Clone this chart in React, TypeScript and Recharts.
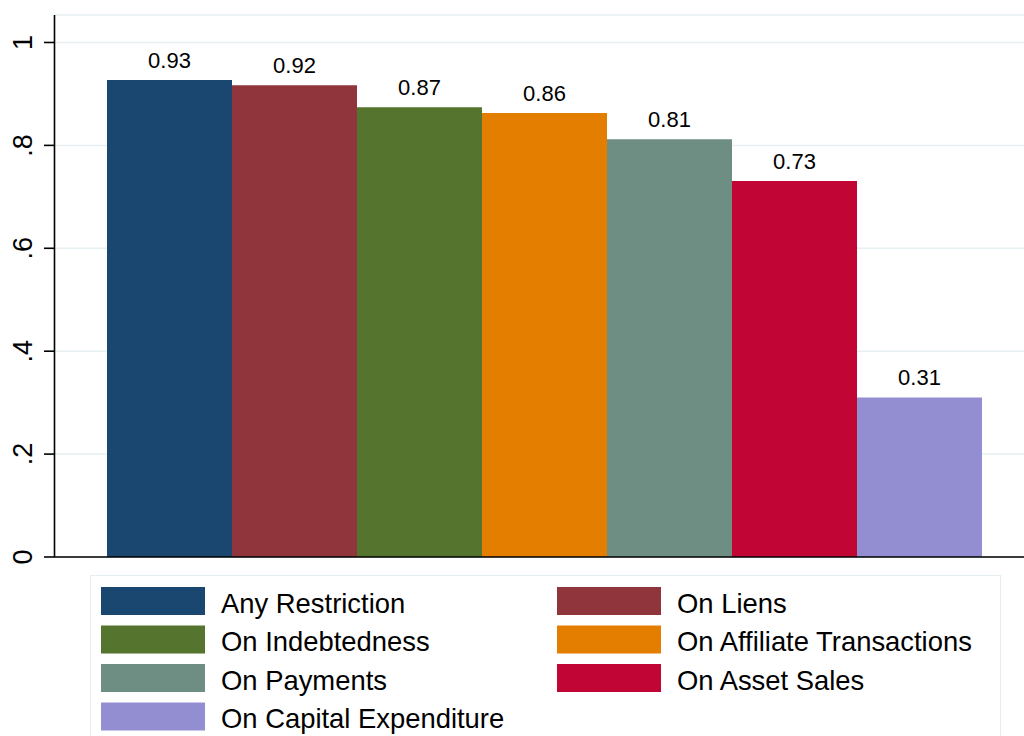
import React from "react";
import { BarChart, Bar, XAxis, YAxis, CartesianGrid, LabelList, ReferenceLine } from "recharts";

// one group, seven series (Stata-style bar chart of shares)
const seriesNames = [
  "Any Restriction",
  "On Liens",
  "On Indebtedness",
  "On Affiliate Transactions",
  "On Payments",
  "On Asset Sales",
  "On Capital Expenditure",
];
const seriesKeys = ["any", "liens", "indebt", "affiliate", "payments", "assets", "capex"];
const seriesValues = [0.927, 0.917, 0.874, 0.863, 0.812, 0.731, 0.31];
const seriesColors = ["#1a476f", "#90353b", "#55752f", "#e37e00", "#6e8e84", "#c10534", "#938dd2"];

const yTicks = [0, 0.2, 0.4, 0.6, 0.8, 1];
const yTickLabels = ["0", ".2", ".4", ".6", ".8", "1"];

const FONT = "'Liberation Sans', Arial, Helvetica, sans-serif";

const row: Record<string, number | string> = { group: "all" };
seriesKeys.forEach((k, i) => {
  row[k] = seriesValues[i];
});
const data = [row];

const YTick = (props: any) => {
  const { y, payload } = props;
  const idx = yTicks.indexOf(payload.value);
  const tx = 32;
  return (
    <g>
      <line x1={44} x2={55} y1={y} y2={y} stroke="#000" strokeWidth={1.6} />
      <text
        x={tx}
        y={y}
        transform={`rotate(-90, ${tx}, ${y})`}
        textAnchor="middle"
        fontSize={27}
        fontFamily={FONT}
        fill="#000"
      >
        {idx >= 0 ? yTickLabels[idx] : payload.value}
      </text>
    </g>
  );
};

function LegendBox() {
  const colX = [101, 557];
  const rowTop = 587;
  const rowStep = 38.5;
  return (
    <svg
      width={1024}
      height={736}
      style={{ position: "absolute", left: 0, top: 0, pointerEvents: "none" }}
    >
      <rect x={90.5} y={575.5} width={910} height={200} fill="#fff" stroke="#e4edf1" strokeWidth={1} />
      {seriesNames.map((name, i) => {
        const c = i % 2;
        const r = Math.floor(i / 2);
        const top = rowTop + r * rowStep;
        return (
          <g key={name}>
            <rect x={colX[c]} y={top} width={104} height={28} fill={seriesColors[i]} />
            <text x={colX[c] + 120} y={top + 25.5} fontSize={27.4} fontFamily={FONT} fill="#000">
              {name}
            </text>
          </g>
        );
      })}
    </svg>
  );
}

export default function App() {
  return (
    <div
      style={{
        position: "absolute",
        left: 0,
        top: 0,
        width: 1024,
        height: 736,
        overflow: "hidden",
        background: "#fff",
      }}
    >
      <BarChart
        width={1024}
        height={736}
        data={data}
        margin={{ top: 15, right: 0, bottom: 179, left: 0 }}
        barGap={0}
        barCategoryGap={39}
      >
        <CartesianGrid vertical={false} stroke="#e6eff1" strokeWidth={1.5} />
        <CartesianGrid horizontal={false} verticalPoints={[54.5]} stroke="#000" strokeWidth={1.6} />
        <XAxis
          dataKey="group"
          tick={false}
          tickLine={false}
          height={0}
          padding={{ left: 13, right: 0 }}
          axisLine={false}
        />
        <YAxis
          width={55}
          domain={[0, 1.0534]}
          ticks={yTicks}
          tick={<YTick />}
          tickLine={false}
          axisLine={false}
          allowDataOverflow
        />
        {seriesKeys.map((k, i) => (
          <Bar key={k} dataKey={k} name={seriesNames[i]} fill={seriesColors[i]} isAnimationActive={false}>
            <LabelList
              dataKey={k}
              position="top"
              offset={12}
              formatter={(v: any) => Number(v).toFixed(2)}
              style={{ fontSize: 22, fontFamily: FONT, fill: "#000" }}
            />
          </Bar>
        ))}
        <ReferenceLine y={0} stroke="#000" strokeWidth={1.6} ifOverflow="visible" />
      </BarChart>
      <LegendBox />
    </div>
  );
}
